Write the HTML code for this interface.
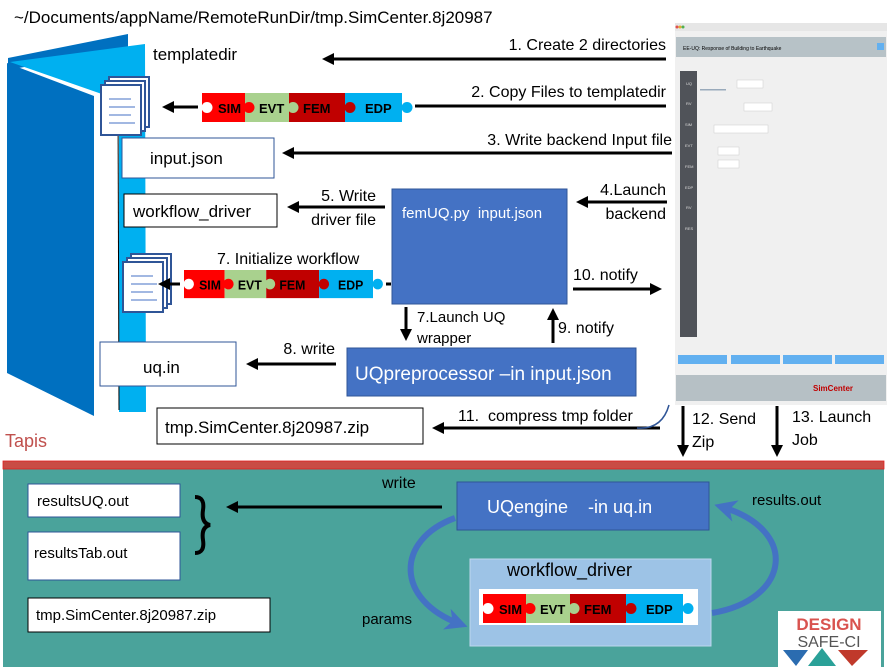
<!DOCTYPE html>
<html><head><meta charset="utf-8"><style>
html,body{margin:0;padding:0;background:#fff;}
svg{display:block;font-family:"Liberation Sans",sans-serif;}
</style></head><body>
<svg width="895" height="667" viewBox="0 0 895 667" xmlns="http://www.w3.org/2000/svg">
<defs>
<marker id="ah" markerWidth="12" markerHeight="12" refX="8" refY="6" orient="auto" markerUnits="userSpaceOnUse"><path d="M0,0 L12,6 L0,12 Z" fill="#000"/></marker>
<marker id="bh" markerWidth="22" markerHeight="22" refX="14" refY="11" orient="auto" markerUnits="userSpaceOnUse"><path d="M0,0 L22,11 L0,22 L6,11 Z" fill="#4472c4"/></marker>
<g id="strip">
<rect x="0" y="0" width="43" height="29" fill="#ff0000"/>
<rect x="43" y="0" width="44" height="29" fill="#a9d18e"/>
<rect x="87" y="0" width="56" height="29" fill="#c00000"/>
<rect x="143" y="0" width="57" height="29" fill="#00b0f0"/>
<circle cx="5" cy="14.5" r="5.5" fill="#fff"/>
<circle cx="47" cy="14.5" r="5.5" fill="#ff0000"/>
<circle cx="91" cy="14.5" r="5.5" fill="#a9d18e"/>
<circle cx="148" cy="14.5" r="5.5" fill="#c00000"/>
<circle cx="205" cy="14.5" r="5.5" fill="#00b0f0"/>
<text x="16" y="20" font-size="13" font-weight="bold">SIM</text>
<text x="57" y="20" font-size="13" font-weight="bold">EVT</text>
<text x="101" y="20" font-size="13" font-weight="bold">FEM</text>
<text x="163" y="20" font-size="13" font-weight="bold">EDP</text>
</g>
<g id="docs">
<rect x="8" y="-8" width="40" height="50" fill="#fff" stroke="#2f5597" stroke-width="2"/>
<rect x="4" y="-4" width="40" height="50" fill="#fff" stroke="#2f5597" stroke-width="2"/>
<rect x="0" y="0" width="40" height="50" fill="#fff" stroke="#2f5597" stroke-width="2"/>
<path d="M8,14H30M8,22H34M8,30H30M8,38H34" stroke="#4472c4" stroke-width="1"/>
</g>
</defs>

<text x="14" y="23" font-size="17">~/Documents/appName/RemoteRunDir/tmp.SimCenter.8j20987</text>

<!-- folder -->
<polygon points="8,58 128,34 128,48 8,70" fill="#0070c0"/>
<polygon points="10,62 145,44 146,412 119,412 119,100" fill="#00b0f0"/>
<line x1="118" y1="100" x2="119" y2="410" stroke="#000" stroke-width="1"/>
<polygon points="7,63 94,96 94,416 7,373" fill="#0070c0"/>
<text x="153" y="60" font-size="17">templatedir</text>

<use href="#docs" x="101" y="85"/>
<use href="#docs" x="123" y="262"/>

<!-- screenshot -->
<rect x="675" y="23" width="212" height="382" fill="#f0f0f0"/>
<rect x="675" y="23" width="212" height="8" fill="#e6e6e6"/>
<circle cx="677" cy="27" r="1.5" fill="#e05050"/><circle cx="680" cy="27" r="1.5" fill="#e0b030"/><circle cx="683" cy="27" r="1.5" fill="#50b050"/>
<rect x="676" y="37" width="210" height="20" fill="#b7c2c7"/>
<rect x="877" y="43" width="7" height="7" fill="#62b0f0"/>
<text x="683" y="50" font-size="5">EE-UQ: Response of Building to Earthquake</text>
<rect x="680" y="71" width="17" height="266" fill="#505359"/>
<g font-size="4" fill="#ddd"><text x="686" y="85">UQ</text><text x="686" y="105">RV</text><text x="685" y="126">SIM</text><text x="685" y="147">EVT</text><text x="685" y="168">FEM</text><text x="685" y="189">EDP</text><text x="686" y="209">RV</text><text x="685" y="230">RES</text></g>
<rect x="737" y="80" width="26" height="8" fill="#fff" stroke="#ccc" stroke-width="0.5"/>
<rect x="744" y="103" width="28" height="8" fill="#fff" stroke="#ccc" stroke-width="0.5"/>
<rect x="714" y="125" width="54" height="8" fill="#fff" stroke="#ccc" stroke-width="0.5"/>
<rect x="718" y="147" width="21" height="8" fill="#fff" stroke="#ccc" stroke-width="0.5"/>
<rect x="718" y="160" width="21" height="8" fill="#fff" stroke="#ccc" stroke-width="0.5"/>
<rect x="700" y="89" width="26" height="1.5" fill="#9ab"/>
<rect x="678" y="355" width="49" height="9" fill="#62b0f0"/>
<rect x="731" y="355" width="49" height="9" fill="#62b0f0"/>
<rect x="783" y="355" width="49" height="9" fill="#62b0f0"/>
<rect x="835" y="355" width="49" height="9" fill="#62b0f0"/>
<rect x="676" y="375" width="210" height="26" fill="#b6c0c5"/>
<text x="813" y="391" font-size="8" fill="#c00000" font-weight="bold">SimCenter</text>

<!-- arrows top -->
<text x="666" y="50" font-size="16" text-anchor="end">1. Create 2 directories</text>
<line x1="666" y1="59" x2="326" y2="59" stroke="#000" stroke-width="3" marker-end="url(#ah)"/>
<text x="666" y="97" font-size="16" text-anchor="end">2. Copy Files to templatedir</text>
<line x1="666" y1="106" x2="415" y2="106" stroke="#000" stroke-width="3"/>
<use href="#strip" x="202" y="93"/>
<line x1="198" y1="107" x2="166" y2="107" stroke="#000" stroke-width="3" marker-end="url(#ah)"/>
<rect x="122" y="138" width="152" height="40" fill="#fff" stroke="#2f5597" stroke-width="1"/>
<text x="150" y="164" font-size="17">input.json</text>
<text x="672" y="145" font-size="16" text-anchor="end">3. Write backend Input file</text>
<line x1="672" y1="153" x2="286" y2="153" stroke="#000" stroke-width="3" marker-end="url(#ah)"/>

<rect x="124" y="194" width="153" height="33" fill="#fff" stroke="#000" stroke-width="1"/>
<text x="133" y="217" font-size="17">workflow_driver</text>
<text x="376" y="201" font-size="16" text-anchor="end">5. Write</text>
<text x="376" y="225" font-size="16" text-anchor="end">driver file</text>
<line x1="385" y1="207" x2="291" y2="207" stroke="#000" stroke-width="3" marker-end="url(#ah)"/>

<rect x="392" y="189" width="175" height="115" fill="#4472c4" stroke="#2f5597" stroke-width="1"/>
<text x="402" y="218" font-size="15" fill="#fff" xml:space="preserve">femUQ.py  input.json</text>
<text x="666" y="195" font-size="16" text-anchor="end">4.Launch</text>
<text x="666" y="219" font-size="16" text-anchor="end">backend</text>
<line x1="667" y1="202" x2="580" y2="202" stroke="#000" stroke-width="3" marker-end="url(#ah)"/>

<text x="217" y="264" font-size="16">7. Initialize workflow</text>
<g transform="translate(184,270) scale(0.945,0.97)"><use href="#strip"/></g>
<line x1="180" y1="284" x2="162" y2="284" stroke="#000" stroke-width="3" marker-end="url(#ah)"/>
<line x1="386" y1="284" x2="391" y2="284" stroke="#000" stroke-width="3"/>

<text x="573" y="280" font-size="16">10. notify</text>
<line x1="573" y1="289" x2="658" y2="289" stroke="#000" stroke-width="3" marker-end="url(#ah)"/>
<line x1="406" y1="307" x2="406" y2="337" stroke="#000" stroke-width="3" marker-end="url(#ah)"/>
<text x="417" y="322" font-size="15">7.Launch UQ</text>
<text x="417" y="343" font-size="15">wrapper</text>
<line x1="553" y1="343" x2="553" y2="312" stroke="#000" stroke-width="3" marker-end="url(#ah)"/>
<text x="558" y="333" font-size="16">9. notify</text>

<rect x="100" y="342" width="136" height="44" fill="#fff" stroke="#2f5597" stroke-width="1"/>
<text x="143" y="373" font-size="17">uq.in</text>
<text x="335" y="354" font-size="16" text-anchor="end">8. write</text>
<line x1="336" y1="364" x2="250" y2="364" stroke="#000" stroke-width="3" marker-end="url(#ah)"/>
<rect x="347" y="348" width="289" height="48" fill="#4472c4" stroke="#2f5597" stroke-width="1"/>
<text x="355" y="380" font-size="19" fill="#fff">UQpreprocessor –in input.json</text>

<rect x="157" y="408" width="266" height="36" fill="#fff" stroke="#000" stroke-width="1"/>
<text x="165" y="433" font-size="17">tmp.SimCenter.8j20987.zip</text>
<text x="458" y="421" font-size="16" xml:space="preserve">11.  compress tmp folder</text>
<line x1="660" y1="428" x2="436" y2="428" stroke="#000" stroke-width="3" marker-end="url(#ah)"/>
<path d="M637,428 Q662,430 669,405" fill="none" stroke="#2f5597" stroke-width="1.5"/>
<line x1="683" y1="406" x2="683" y2="453" stroke="#000" stroke-width="3" marker-end="url(#ah)"/>
<text x="692" y="424" font-size="16">12. Send</text>
<text x="692" y="447" font-size="16">Zip</text>
<line x1="777" y1="406" x2="777" y2="453" stroke="#000" stroke-width="3" marker-end="url(#ah)"/>
<text x="792" y="422" font-size="16">13. Launch</text>
<text x="792" y="445" font-size="16">Job</text>
<text x="5" y="447" font-size="18" fill="#c0504d">Tapis</text>

<!-- Tapis region -->
<rect x="3" y="469" width="881" height="198" fill="#4aa39b"/>
<rect x="3" y="461" width="881" height="8" fill="#c94c45" stroke="#e02020" stroke-width="0.8"/>

<rect x="28" y="484" width="152" height="33" fill="#fff" stroke="#2f5597" stroke-width="1"/>
<text x="37" y="506" font-size="15">resultsUQ.out</text>
<rect x="28" y="532" width="152" height="48" fill="#fff" stroke="#2f5597" stroke-width="1"/>
<text x="34" y="558" font-size="15">resultsTab.out</text>
<rect x="28" y="598" width="242" height="34" fill="#fff" stroke="#000" stroke-width="1"/>
<text x="36" y="620" font-size="15">tmp.SimCenter.8j20987.zip</text>
<path d="M195,497 Q205,497 203,510 Q201,523 210,525 Q201,527 203,540 Q205,553 195,553" fill="none" stroke="#000" stroke-width="4"/>
<text x="382" y="488" font-size="16">write</text>
<line x1="442" y1="507" x2="230" y2="507" stroke="#000" stroke-width="3" marker-end="url(#ah)"/>

<rect x="457" y="482" width="252" height="48" fill="#4472c4" stroke="#2f5597" stroke-width="1"/>
<text x="487" y="513" font-size="18" fill="#fff" xml:space="preserve">UQengine    -in uq.in</text>
<text x="752" y="505" font-size="15">results.out</text>
<text x="362" y="624" font-size="15">params</text>

<path d="M455,518 C395,540 395,600 460,624" fill="none" stroke="#4472c4" stroke-width="6" marker-end="url(#bh)"/>
<path d="M712,613 C790,600 800,530 722,507" fill="none" stroke="#4472c4" stroke-width="6" marker-end="url(#bh)"/>

<rect x="470" y="559" width="241" height="87" fill="#9dc3e6" stroke="#bdd7ee" stroke-width="1"/>
<text x="507" y="576" font-size="18">workflow_driver</text>
<rect x="479" y="589" width="219" height="36" fill="#fff"/>
<use href="#strip" x="483" y="594"/>

<rect x="778" y="611" width="103" height="56" fill="#fff"/>
<text x="829" y="630" font-size="17" font-weight="bold" fill="#d9534f" text-anchor="middle">DESIGN</text>
<text x="829" y="647" font-size="16" fill="#555" text-anchor="middle">SAFE-CI</text>
<polygon points="783,650 808,650 796,666" fill="#2b6cb0"/>
<polygon points="808,666 822,648 836,666" fill="#2aa198"/>
<polygon points="838,650 868,650 852,666" fill="#c0392b"/>
</svg>
</body></html>
